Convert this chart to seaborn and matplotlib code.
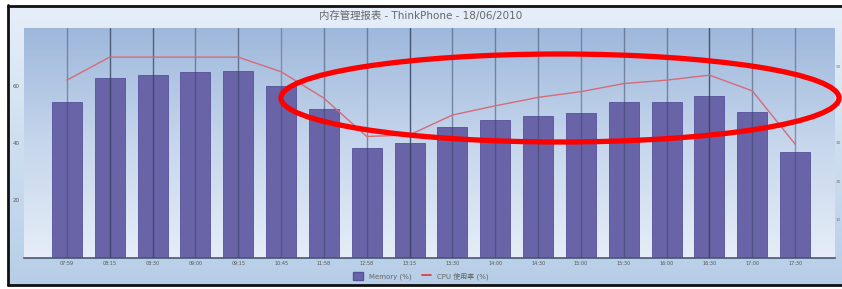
import numpy as np
import pandas as pd
import matplotlib.pyplot as plt
import seaborn as sns
from matplotlib.patches import Ellipse, Patch
from matplotlib.lines import Line2D

# ==========================================
# DATA
# ==========================================
title = "内存管理报表 - ThinkPhone - 18/06/2010"
times = ["07:59", "08:15", "08:30", "09:00", "09:15", "10:45", "11:58", "12:58", "13:15",
         "13:30", "14:00", "14:30", "15:00", "15:30", "16:00", "16:30", "17:00", "17:30"]
memory = [54.4, 62.5, 63.7, 64.8, 65.0, 59.9, 51.8, 38.4, 39.9,
          45.7, 48.0, 49.5, 50.3, 54.2, 54.4, 56.3, 50.7, 37.0]
cpu = [46.4, 52.4, 52.4, 52.4, 52.4, 48.6, 41.7, 31.7, 32.1,
       37.3, 39.7, 41.9, 43.4, 45.5, 46.4, 47.7, 43.6, 29.7]
left_ticks = [20, 40, 60]
right_ticks = [10, 20, 30, 40, 50]
legend_labels = ["Memory (%)", "CPU 使用率 (%)"]

# grid line strength per category (some lines in the source look darker)
grid_alpha = [0.45, 0.8, 0.75, 0.5, 0.6, 0.4, 0.5, 0.5, 0.85,
              0.5, 0.5, 0.5, 0.45, 0.5, 0.5, 0.85, 0.5, 0.45]

df = pd.DataFrame({"time": times, "memory": memory, "cpu": cpu})

sns.set_style("white")
plt.rcParams["font.family"] = ["DejaVu Sans", "Noto Sans CJK SC"]

W, H = 842, 289
fig = plt.figure(figsize=(W / 100, H / 100), dpi=100)
fig.patch.set_facecolor("white")

# outer panel background (light blue gradient)
bg = fig.add_axes([8 / W, 4 / H, 1 - 8 / W, 1 - 11 / H], zorder=-10)
outer = np.linspace(0, 1, 256).reshape(-1, 1)
bg.imshow(outer, cmap=sns.blend_palette(["#e6eff9", "#b6cee7"], as_cmap=True),
          aspect="auto", extent=[0, 1, 0, 1])
bg.set_axis_off()

# plot area
pos = [24 / W, 31 / H, (835 - 24) / W, (258 - 28) / H]
inner = fig.add_axes(pos, zorder=-5)
grad = np.linspace(0, 1, 256).reshape(-1, 1)
inner.imshow(grad, cmap=sns.blend_palette(["#9eb8dc", "#c6d6ec", "#e6edf8"], as_cmap=True),
             aspect="auto", extent=[0, 1, 0, 1])
inner.set_axis_off()

ax = fig.add_axes(pos)
ax.patch.set_alpha(0)
sns.barplot(data=df, x="time", y="memory", color="#6963a8", edgecolor="#56519a",
            linewidth=0.6, width=0.7, saturation=1, ax=ax, zorder=2)
for i, a in enumerate(grid_alpha):
    ax.axvline(i, color="#34425f", lw=1.0, alpha=a, zorder=3)
ax.set_ylim(0, 80)
ax.set_yticks(left_ticks)
ax.set_yticklabels([str(t) for t in left_ticks])
ax.tick_params(axis="y", length=0, pad=3, labelsize=4, labelcolor="#555555")
ax.tick_params(axis="x", length=0, pad=2, labelsize=3.5, labelcolor="#555555")
ax.set_xlabel("")
ax.set_ylabel("")
for s in ["top", "left", "right"]:
    ax.spines[s].set_visible(False)
ax.spines["bottom"].set_color("#4a5670")
ax.spines["bottom"].set_linewidth(1.2)

ax2 = ax.twinx()
sns.lineplot(x=np.arange(len(times)), y=df["cpu"], color="#d66a78", lw=1.0, ax=ax2, zorder=4)
ax2.set_ylim(0, 60)
ax2.set_yticks(right_ticks)
ax2.set_yticklabels([str(t) for t in right_ticks])
ax2.tick_params(axis="y", length=0, pad=0.5, labelsize=3, labelcolor="#777777")
ax2.set_ylabel("")
for s in ax2.spines.values():
    s.set_visible(False)
ax.set_xlim(-1.0, len(times) - 0.07)

# title
fig.text(0.5, 1 - 16 / H, title, ha="center", va="center", fontsize=7.5, color="#666666")

# legend at the bottom
handles = [Patch(facecolor="#6963a8", edgecolor="#56519a"),
           Line2D([0], [0], color="#e03040", lw=1.2)]
fig.legend(handles, legend_labels, loc="center", bbox_to_anchor=(0.5, 1 - 276 / H),
           ncol=2, frameon=False, fontsize=5, labelcolor="#666666",
           handlelength=1.4, handleheight=1.4, columnspacing=1.5)

# red hand-drawn style ellipse highlighting the afternoon rise
fig.patches.append(Ellipse((560 / W, 1 - 98 / H), 558 / W, 88 / H,
                           transform=fig.transFigure, fill=False,
                           edgecolor="#ff0000", lw=3.8, zorder=20))

# black frame on the left, top and bottom
for xs, ys in [([8, 8], [5, 285]), ([8, W], [6, 6]), ([8, W], [285, 285])]:
    fig.add_artist(Line2D([x / W for x in xs], [1 - y / H for y in ys],
                          transform=fig.transFigure, color="#111111", lw=2.0))

plt.savefig("out.png", dpi=100)
